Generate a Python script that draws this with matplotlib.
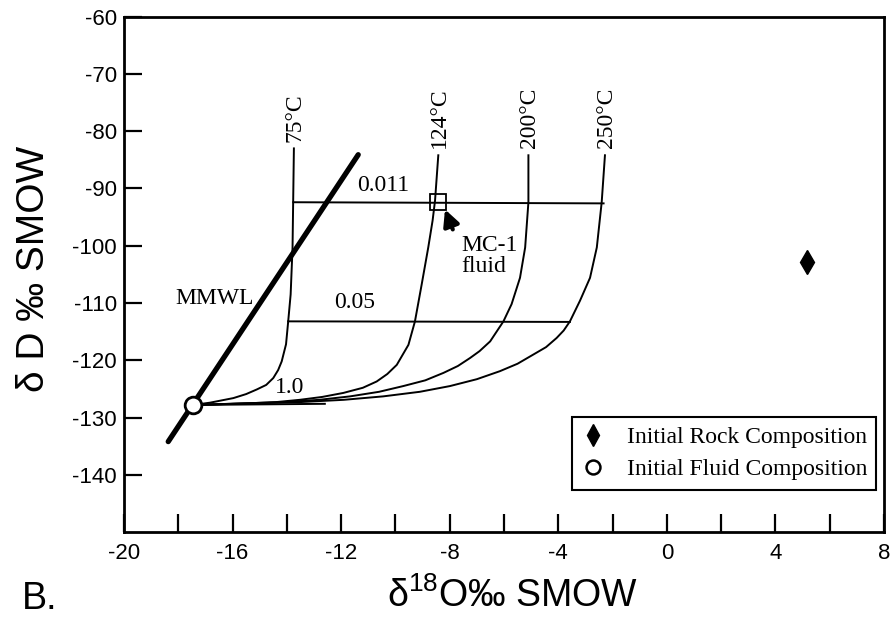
import matplotlib
matplotlib.use("Agg")
import matplotlib.pyplot as plt
import matplotlib.ticker as plticker
from matplotlib.lines import Line2D

plt.rcParams["font.family"] = ["Liberation Sans", "DejaVu Sans"]
plt.rcParams["mathtext.fontset"] = "custom"
plt.rcParams["mathtext.rm"] = "Liberation Sans"
plt.rcParams["axes.unicode_minus"] = False

SERIF = ["Liberation Serif", "DejaVu Serif"]

# exchange curves, one per temperature (d18O, dD)
t75_x = [-13.74, -13.79, -13.86, -13.95, -14.03, -14.19, -14.32, -14.50, -14.76, -15.11,
         -15.50, -15.97, -16.83, -17.45]
t75_y = [-83.0, -100.3, -108.5, -113.2, -117.2, -120.2, -121.7, -123.1, -124.3, -125.1,
         -125.9, -126.6, -127.4, -127.8]
t124_x = [-8.42, -8.54, -8.63, -8.79, -9.03, -9.28, -9.52, -9.95, -10.30, -10.69, -11.20,
          -11.92, -12.70, -13.52, -14.40, -15.36, -17.45]
t124_y = [-84.2, -92.1, -95.6, -100.3, -106.7, -113.2, -117.3, -120.8, -122.4, -123.7, -124.8,
          -125.7, -126.4, -126.9, -127.3, -127.5, -127.8]
t200_x = [-5.10, -5.10, -5.22, -5.41, -5.72, -6.02, -6.51, -6.90, -7.25, -7.70, -8.23, -8.90,
          -9.71, -10.60, -11.67, -12.80, -14.13, -17.45]
t200_y = [-84.2, -92.4, -100.3, -105.6, -110.2, -113.2, -116.7, -118.4, -119.6, -121.0, -122.2,
          -123.5, -124.5, -125.5, -126.3, -126.9, -127.3, -127.8]
t250_x = [-2.28, -2.40, -2.58, -2.83, -3.20, -3.57, -3.80, -4.06, -4.45, -4.92, -5.50, -6.15,
          -7.00, -7.99, -9.10, -10.45, -11.90, -13.52, -17.45]
t250_y = [-84.2, -92.4, -100.3, -105.6, -109.6, -113.2, -114.8, -116.1, -117.7, -119.0, -120.6,
          -121.9, -123.3, -124.5, -125.5, -126.3, -126.9, -127.3, -127.8]
temps = ["75°C", "124°C", "200°C", "250°C"]

# water/rock contours
wr_labels = ["0.011", "0.05", "1.0"]
wr011_x = [-13.76, -2.33]
wr011_y = [-92.4, -92.6]
wr005_x = [-13.95, -3.57]
wr005_y = [-113.2, -113.3]
wr1_x = [-17.45, -12.6]
wr1_y = [-127.8, -127.6]

# meteoric water line
mmwl_x = [-18.37, -11.37]
mmwl_y = [-134.2, -84.1]

rock = (5.15, -102.8)
fluid = (-17.45, -127.8)
mc1 = (-8.43, -92.3)

fig = plt.figure(figsize=(8.92, 6.18), dpi=100)
ax = fig.add_axes([0.139, 0.139, 0.852, 0.834])

curves = [(t75_x, t75_y), (t124_x, t124_y), (t200_x, t200_y), (t250_x, t250_y)]
for (cx, cy), name in zip(curves, temps):
    ax.plot(cx, cy, color="black", lw=1.4, solid_joinstyle="round")
    ax.text(cx[0] + 0.05, cy[0] + 1.2, name, rotation=90, ha="center", va="bottom",
            fontsize=17, family=SERIF)

for wx, wy in [(wr011_x, wr011_y), (wr005_x, wr005_y), (wr1_x, wr1_y)]:
    ax.plot(wx, wy, color="black", lw=1.4)

ax.text(-10.44, -89.5, wr_labels[0], ha="center", va="center", fontsize=17, family=SERIF)
ax.text(-11.49, -109.9, wr_labels[1], ha="center", va="center", fontsize=17, family=SERIF)
ax.text(-13.88, -124.8, wr_labels[2], ha="center", va="center", fontsize=17, family=SERIF)

ax.plot(mmwl_x, mmwl_y, color="black", lw=3.8, solid_capstyle="round", zorder=3)
ax.text(-16.65, -109.2, "MMWL", ha="center", va="center", fontsize=17, family=SERIF)

ax.plot(*fluid, marker="o", ms=12, mfc="white", mec="black", mew=2, zorder=5)
ax.plot(*rock, marker="d", ms=12, color="black", zorder=5)
ax.plot(*mc1, marker="s", ms=12, mfc="none", mec="black", mew=1.3, zorder=5)

ax.annotate("", xy=(-8.21, -93.2), xytext=(-7.85, -97.6),
            arrowprops=dict(arrowstyle="-|>", lw=3, color="black", mutation_scale=24))
ax.text(-7.58, -101.8, "MC-1\nfluid", ha="left", va="center", fontsize=17,
        family=SERIF, linespacing=0.95)

ax.set_xlim(-20, 8)
ax.set_ylim(-150, -60)
ax.xaxis.set_major_locator(plticker.MultipleLocator(4))
ax.xaxis.set_minor_locator(plticker.MultipleLocator(2))
ax.set_yticks(range(-140, -59, 10))

ax.tick_params(which="both", direction="in", length=13, width=1.6,
               top=False, right=False, labelsize=16)
ax.tick_params(axis="y", pad=5)
ax.tick_params(axis="x", pad=8)
for s in ax.spines.values():
    s.set_linewidth(2)

ax.set_ylabel("δ D ‰ SMOW", fontsize=28)
ax.yaxis.set_label_coords(-0.095, 0.51)
ax.set_xlabel("δ$^{18}$O‰ SMOW", fontsize=27)
ax.xaxis.set_label_coords(0.512, -0.088)

handles = [
    Line2D([], [], ls="none", marker="d", ms=11, color="black"),
    Line2D([], [], ls="none", marker="o", ms=10, mfc="white", mec="black", mew=1.8),
]
leg = ax.legend(handles, ["Initial Rock Composition", "Initial Fluid Composition"],
                loc="lower right", bbox_to_anchor=(0.990, 0.082), borderaxespad=0,
                prop={"family": SERIF, "size": 17}, fancybox=False, edgecolor="black",
                framealpha=1, handlelength=1.0, handletextpad=0.9, labelspacing=0.45,
                borderpad=0.4)
leg.get_frame().set_linewidth(1.5)

fig.text(0.025, 0.014, "B.", fontsize=27, ha="left", va="baseline")

fig.savefig("out.png", dpi=100)
